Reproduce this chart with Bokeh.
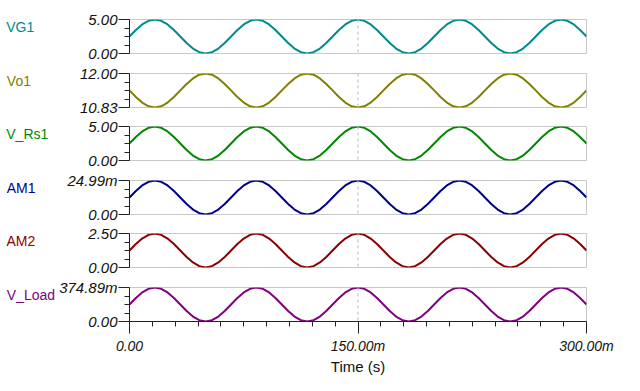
from bokeh.plotting import figure
from bokeh.layouts import column
from bokeh.models import Range1d, FixedTicker, Span
from bokeh.embed import file_html
from bokeh.resources import INLINE

# time samples (ms)
t_ms = [0, 4.17, 8.33, 12.5, 16.67, 20.83, 25, 29.17, 33.33, 37.5, 41.67, 45.83, 50, 54.17, 58.33, 62.5,
        66.67, 70.83, 75, 79.17, 83.33, 87.5, 91.67, 95.83, 100, 104.17, 108.33, 112.5, 116.67, 120.83, 125, 129.17,
        133.33, 137.5, 141.67, 145.83, 150, 154.17, 158.33, 162.5, 166.67, 170.83, 175, 179.17, 183.33, 187.5, 191.67, 195.83,
        200, 204.17, 208.33, 212.5, 216.67, 220.83, 225, 229.17, 233.33, 237.5, 241.67, 245.83, 250, 254.17, 258.33, 262.5,
        266.67, 270.83, 275, 279.17, 283.33, 287.5, 291.67, 295.83, 300]

vg1 = [2.50, 3.46, 4.27, 4.81, 5.00, 4.81, 4.27, 3.46, 2.50, 1.54, 0.73, 0.19, 0.00, 0.19, 0.73, 1.54,
       2.50, 3.46, 4.27, 4.81, 5.00, 4.81, 4.27, 3.46, 2.50, 1.54, 0.73, 0.19, 0.00, 0.19, 0.73, 1.54,
       2.50, 3.46, 4.27, 4.81, 5.00, 4.81, 4.27, 3.46, 2.50, 1.54, 0.73, 0.19, 0.00, 0.19, 0.73, 1.54,
       2.50, 3.46, 4.27, 4.81, 5.00, 4.81, 4.27, 3.46, 2.50, 1.54, 0.73, 0.19, 0.00, 0.19, 0.73, 1.54,
       2.50, 3.46, 4.27, 4.81, 5.00, 4.81, 4.27, 3.46, 2.50]

vo1 = [11.42, 11.19, 11.00, 10.87, 10.83, 10.87, 11.00, 11.19, 11.42, 11.64, 11.83, 11.96, 12.00, 11.96, 11.83, 11.64,
       11.42, 11.19, 11.00, 10.87, 10.83, 10.87, 11.00, 11.19, 11.42, 11.64, 11.83, 11.96, 12.00, 11.96, 11.83, 11.64,
       11.42, 11.19, 11.00, 10.87, 10.83, 10.87, 11.00, 11.19, 11.42, 11.64, 11.83, 11.96, 12.00, 11.96, 11.83, 11.64,
       11.42, 11.19, 11.00, 10.87, 10.83, 10.87, 11.00, 11.19, 11.42, 11.64, 11.83, 11.96, 12.00, 11.96, 11.83, 11.64,
       11.42, 11.19, 11.00, 10.87, 10.83, 10.87, 11.00, 11.19, 11.42]

v_rs1 = [2.50, 3.46, 4.27, 4.81, 5.00, 4.81, 4.27, 3.46, 2.50, 1.54, 0.73, 0.19, 0.00, 0.19, 0.73, 1.54,
         2.50, 3.46, 4.27, 4.81, 5.00, 4.81, 4.27, 3.46, 2.50, 1.54, 0.73, 0.19, 0.00, 0.19, 0.73, 1.54,
         2.50, 3.46, 4.27, 4.81, 5.00, 4.81, 4.27, 3.46, 2.50, 1.54, 0.73, 0.19, 0.00, 0.19, 0.73, 1.54,
         2.50, 3.46, 4.27, 4.81, 5.00, 4.81, 4.27, 3.46, 2.50, 1.54, 0.73, 0.19, 0.00, 0.19, 0.73, 1.54,
         2.50, 3.46, 4.27, 4.81, 5.00, 4.81, 4.27, 3.46, 2.50]

am1 = [0.01250, 0.01728, 0.02133, 0.02404, 0.02499, 0.02404, 0.02133, 0.01728, 0.01250, 0.00771, 0.00366, 0.00095, 0.0, 0.00095, 0.00366, 0.00771,
       0.01250, 0.01728, 0.02133, 0.02404, 0.02499, 0.02404, 0.02133, 0.01728, 0.01250, 0.00771, 0.00366, 0.00095, 0.0, 0.00095, 0.00366, 0.00771,
       0.01250, 0.01728, 0.02133, 0.02404, 0.02499, 0.02404, 0.02133, 0.01728, 0.01250, 0.00771, 0.00366, 0.00095, 0.0, 0.00095, 0.00366, 0.00771,
       0.01250, 0.01728, 0.02133, 0.02404, 0.02499, 0.02404, 0.02133, 0.01728, 0.01250, 0.00771, 0.00366, 0.00095, 0.0, 0.00095, 0.00366, 0.00771,
       0.01250, 0.01728, 0.02133, 0.02404, 0.02499, 0.02404, 0.02133, 0.01728, 0.01250]

am2 = [1.25, 1.73, 2.13, 2.40, 2.50, 2.40, 2.13, 1.73, 1.25, 0.77, 0.37, 0.10, 0.00, 0.10, 0.37, 0.77,
       1.25, 1.73, 2.13, 2.40, 2.50, 2.40, 2.13, 1.73, 1.25, 0.77, 0.37, 0.10, 0.00, 0.10, 0.37, 0.77,
       1.25, 1.73, 2.13, 2.40, 2.50, 2.40, 2.13, 1.73, 1.25, 0.77, 0.37, 0.10, 0.00, 0.10, 0.37, 0.77,
       1.25, 1.73, 2.13, 2.40, 2.50, 2.40, 2.13, 1.73, 1.25, 0.77, 0.37, 0.10, 0.00, 0.10, 0.37, 0.77,
       1.25, 1.73, 2.13, 2.40, 2.50, 2.40, 2.13, 1.73, 1.25]

v_load = [0.1874, 0.2592, 0.3200, 0.3606, 0.3749, 0.3606, 0.3200, 0.2592, 0.1874, 0.1157, 0.0549, 0.0143, 0.0, 0.0143, 0.0549, 0.1157,
          0.1874, 0.2592, 0.3200, 0.3606, 0.3749, 0.3606, 0.3200, 0.2592, 0.1874, 0.1157, 0.0549, 0.0143, 0.0, 0.0143, 0.0549, 0.1157,
          0.1874, 0.2592, 0.3200, 0.3606, 0.3749, 0.3606, 0.3200, 0.2592, 0.1874, 0.1157, 0.0549, 0.0143, 0.0, 0.0143, 0.0549, 0.1157,
          0.1874, 0.2592, 0.3200, 0.3606, 0.3749, 0.3606, 0.3200, 0.2592, 0.1874, 0.1157, 0.0549, 0.0143, 0.0, 0.0143, 0.0549, 0.1157,
          0.1874, 0.2592, 0.3200, 0.3606, 0.3749, 0.3606, 0.3200, 0.2592, 0.1874]

names = ["VG1", "Vo1", "V_Rs1", "AM1", "AM2", "V_Load"]
series = [vg1, vo1, v_rs1, am1, am2, v_load]
colors = ["#008B8B", "#808000", "#008800", "#00008B", "#8B0000", "#800080"]
y_min = [0.0, 10.83, 0.0, 0.0, 0.0, 0.0]
y_max = [5.0, 12.0, 5.0, 0.02499, 2.5, 0.37489]
y_min_labels = ["0.00", "10.83", "0.00", "0.00", "0.00", "0.00"]
y_max_labels = ["5.00", "12.00", "5.00", "24.99m", "2.50", "374.89m"]
x_ticks = [0, 150, 300]
x_tick_labels = ["0.00", "150.00m", "300.00m"]
x_minor = [15, 30, 45, 60, 75, 90, 105, 120, 135, 165, 180, 195, 210, 225, 240, 255, 270, 285]
x_title = "Time (s)"

FONT = "Liberation Sans"
FRAME_H = 34
LEFT = 129
FRAME_W = 457
RIGHT = 45
top_b = [19, 10, 9, 10, 9, 10]
bot_b = [10, 10, 10, 10, 10, 60]
# gap between tick labels and series name, so the names start near the left edge
name_standoff = [51, 46, 37, 29, 50, 1]

x_range = Range1d(0, 300)
figs = []
for i in range(6):
    last = (i == 5)
    h = top_b[i] + FRAME_H + bot_b[i]
    p = figure(width=LEFT + FRAME_W + RIGHT, height=h, x_range=x_range,
               y_range=Range1d(y_min[i], y_max[i]), output_backend="svg",
               toolbar_location=None, min_border_left=LEFT, min_border_right=RIGHT,
               min_border_top=top_b[i], min_border_bottom=bot_b[i],
               x_axis_location="below" if last else None)
    p.background_fill_color = "white"
    p.border_fill_color = "white"
    p.outline_line_color = "#c8c8c8"
    p.outline_line_width = 1
    p.grid.visible = False
    p.line(t_ms, series[i], line_color=colors[i], line_width=2, line_join="round")
    p.add_layout(Span(location=150, dimension="height", line_color="#b8b8b8",
                      line_dash="3 3", line_width=1))
    ya = p.yaxis[0]
    q1 = y_min[i] + (y_max[i] - y_min[i]) * 0.25
    q2 = y_min[i] + (y_max[i] - y_min[i]) * 0.5
    q3 = y_min[i] + (y_max[i] - y_min[i]) * 0.75
    ya.ticker = FixedTicker(ticks=[y_min[i], y_max[i]], minor_ticks=[q1, q2, q3])
    ya.major_label_overrides = {y_min[i]: y_min_labels[i], y_max[i]: y_max_labels[i]}
    ya.major_tick_out = 11
    ya.major_tick_in = 0
    ya.minor_tick_out = 5
    ya.minor_tick_in = 0
    ya.axis_line_color = "#222222"
    ya.major_tick_line_color = "#222222"
    ya.minor_tick_line_color = "#222222"
    ya.major_label_standoff = 1
    ya.major_label_text_font = FONT
    ya.major_label_text_font_style = "italic"
    ya.major_label_text_font_size = "15px"
    ya.major_label_text_color = "#111111"
    # trailing empty line lifts the name a little above the panel's middle
    ya.axis_label = names[i] + "\n"
    ya.axis_label_orientation = "horizontal"
    ya.axis_label_standoff = name_standoff[i]
    ya.axis_label_text_font = FONT
    ya.axis_label_text_font_style = "normal"
    ya.axis_label_text_font_size = "14px"
    ya.axis_label_text_color = colors[i]
    if last:
        xa = p.xaxis[0]
        xa.ticker = FixedTicker(ticks=x_ticks, minor_ticks=x_minor)
        xa.major_label_overrides = dict(zip(x_ticks, x_tick_labels))
        xa.major_tick_out = 12
        xa.major_tick_in = 0
        xa.minor_tick_out = 5
        xa.minor_tick_in = 0
        xa.axis_line_color = "#222222"
        xa.major_tick_line_color = "#222222"
        xa.minor_tick_line_color = "#222222"
        xa.major_label_standoff = 4
        xa.major_label_text_font = FONT
        xa.major_label_text_font_style = "italic"
        xa.major_label_text_font_size = "14px"
        xa.major_label_text_color = "#111111"
        xa.axis_label = x_title
        xa.axis_label_text_font = FONT
        xa.axis_label_text_font_style = "normal"
        xa.axis_label_text_font_size = "15px"
        xa.axis_label_text_color = "#111111"
        xa.axis_label_standoff = 1
    figs.append(p)

layout = column(*figs, spacing=0)
open("out.html", "w").write(file_html(layout, INLINE))
